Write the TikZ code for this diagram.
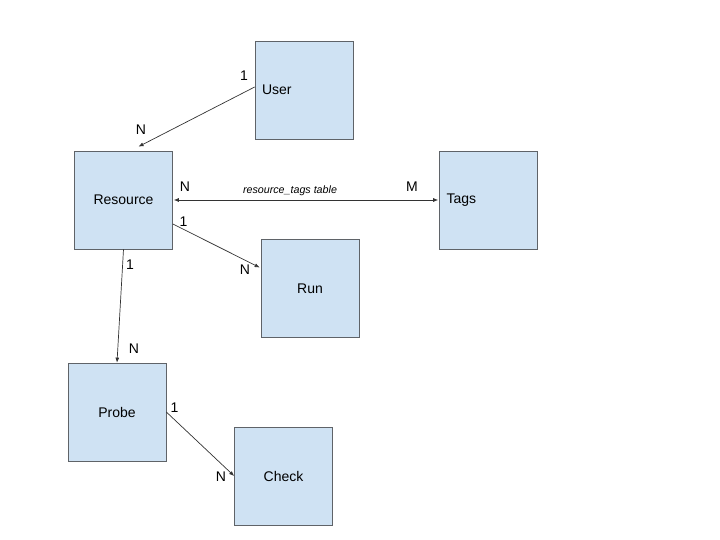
\documentclass[tikz,border=0pt]{standalone}
\usepackage{fontspec}
\setmainfont{Liberation Sans}
\usetikzlibrary{arrows.meta}
\definecolor{boxfill}{HTML}{CFE2F3}
\definecolor{boxline}{HTML}{5F6368}
\definecolor{linec}{HTML}{333333}
\begin{document}
\begin{tikzpicture}[x=1pt,y=-1pt,
  entity/.style={draw=boxline, line width=0.7pt, fill=boxfill, minimum width=98pt, minimum height=98pt, inner sep=0pt, font=\fontsize{14}{16}\selectfont},
  leftentity/.style={entity, text width=84pt, inner xsep=7pt, align=left},
  rel/.style={draw=linec, line width=0.7pt, -{Latex[length=5pt,width=4pt]}},
  card/.style={font=\fontsize{14}{16}\selectfont, inner sep=0pt}]
\useasboundingbox (0,0) rectangle (720,540);
\node[leftentity] (user) at (304,90) {User};
\node[entity] (res) at (123.5,200) {Resource};
\node[leftentity] (tags) at (488.5,200) {Tags};
\node[entity] (run) at (310,288.5) {Run};
\node[entity] (probe) at (117,412) {Probe};
\node[entity] (check) at (283.5,476) {Check};
\draw[rel] ([yshift=3pt]user.west) -- ([xshift=15pt,yshift=4pt]res.north);
\draw[rel, {Latex[length=5pt,width=4pt]}-{Latex[length=5pt,width=4pt]}] ([xshift=1pt]res.east) -- ([xshift=-1pt]tags.west);
\draw[rel] ([yshift=-24pt]res.east) -- ([yshift=21pt,xshift=-1pt]run.west);
\draw[rel] (res.south) -- (probe.north);
\draw[rel] (probe.east) -- (check.west);
\node[card] (c1) at (244,76) {1};
\node[card] (c2) at (141,130) {N};
\node[card] (c3) at (185,187) {N};
\node[inner sep=0pt, font=\fontsize{10.7}{12}\selectfont\itshape] (tbl) at (290,190.5) {resource\_tags table};
\node[card] (c4) at (412,187) {M};
\node[card] (c5) at (183.5,222) {1};
\node[card] (c6) at (245,270) {N};
\node[card] (c7) at (130,265) {1};
\node[card] (c8) at (134,349) {N};
\node[card] (c9) at (174.5,408) {1};
\node[card] (c10) at (221,477) {N};
\end{tikzpicture}
\end{document}
